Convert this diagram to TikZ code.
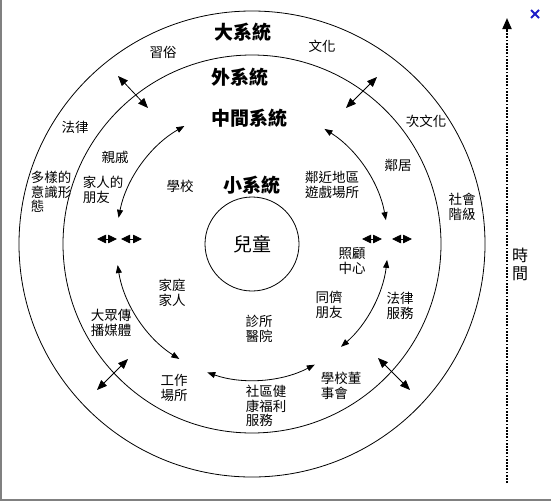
\documentclass[tikz,border=0pt]{standalone}
\usepackage{fontspec}
\newfontfamily\cjk{Noto Sans CJK TC}
\usetikzlibrary{arrows.meta}

\definecolor{closeblue}{RGB}{30,30,200}
\tikzset{
  ring/.style={shape=circle,draw=black,line width=0.8pt,inner sep=0pt},
  sysname/.style={font=\cjk\bfseries\fontsize{19}{20}\selectfont,inner sep=0pt},
  lbl/.style={font=\cjk\fontsize{13.5}{14.5}\selectfont,inner sep=0pt,align=center},
  lbll/.style={lbl,align=left},
  arcway/.style={{Triangle[length=8pt,width=6pt]}-{Triangle[length=8pt,width=6pt]},line width=0.8pt},
  crossway/.style={{Triangle[length=10pt,width=8pt]}-{Triangle[length=10pt,width=8pt]},line width=0.8pt},
  tinyway/.style={{Triangle[length=9pt,width=8.5pt]}-{Triangle[length=9pt,width=8.5pt]},line width=0.8pt},
  timeline/.style={-{Triangle[length=11pt,width=9pt]},line width=1.8pt,dash pattern=on 1.8pt off 1.4pt},
}

\begin{document}
\begin{tikzpicture}[x=1pt,y=1pt]
\useasboundingbox (0,0) rectangle (551,-501);
\draw[gray,line width=1.5pt] (1,0) -- (1,-500) -- (551,-500);

% rings
\coordinate (C) at (252,-244);
\node[ring,minimum size=466pt] (macro) at (C) {};
\node[ring,minimum size=378pt] (exo) at (C) {};
\node[ring,minimum size=94pt,font=\cjk\fontsize{19}{20}\selectfont] (child) at (C) {兒童};

% system names
\node[sysname] (macroname) at (243,-32) {大系統};
\node[sysname] (exoname) at (240,-77) {外系統};
\node[sysname] (mesoname) at (249,-118) {中間系統};
\node[sysname] (microname) at (252,-185) {小系統};

% labels
\node[lbl] (custom) at (163,-52) {習俗};
\node[lbl] (culture) at (322,-46) {文化};
\node[lbl] (law) at (75,-127) {法律};
\node[lbl] (subcult) at (426,-121) {次文化};
\node[lbl] (kin) at (115,-157) {親戚};
\node[lbl] (neigh) at (398,-165) {鄰居};
\node[lbll] (ideol) at (51,-192) {多樣的\\意識形\\態};
\node[lbll] (famfr) at (103,-190) {家人的\\朋友};
\node[lbl] (school) at (180,-186) {學校};
\node[lbl] (play) at (332,-185) {鄰近地區\\遊戲場所};
\node[lbl] (class) at (462,-207) {社會\\階級};
\node[lbl] (care) at (352,-261) {照顧\\中心};
\node[lbl] (peer) at (329,-305) {同儕\\朋友};
\node[lbl] (legal) at (400,-306) {法律\\服務};
\node[lbl] (family) at (172,-293) {家庭\\家人};
\node[lbl] (media) at (111,-323) {大眾傳\\播媒體};
\node[lbl] (clinic) at (259,-329) {診所\\醫院};
\node[lbl] (work) at (174,-388) {工作\\場所};
\node[lbll] (welfare) at (266,-406) {社區健\\康福利\\服務};
\node[lbll] (board) at (341,-386) {學校董\\事會};

% meso arcs
\coordinate (ul) at ([shift={(119.8:136)}]C);
\coordinate (ur) at ([shift={(57.8:136)}]C);
\coordinate (ll) at ([shift={(188.9:136)}]C);
\coordinate (bt) at ([shift={(250.8:136)}]C);
\coordinate (lr) at ([shift={(-6.7:136)}]C);
\draw[arcway] (ul) arc[start angle=119.8,end angle=168.9,radius=136];
\draw[arcway] (ur) arc[start angle=57.8,end angle=10.1,radius=136];
\draw[arcway] (ll) arc[start angle=188.9,end angle=237.7,radius=136];
\draw[arcway] (bt) arc[start angle=250.8,end angle=297.5,radius=136];
\draw[arcway] (lr) arc[start angle=-6.7,end angle=-49.1,radius=136];

% arrows across the exo ring
\coordinate (ulA) at (118,-76);
\coordinate (ulB) at (148,-108);
\coordinate (urA) at (377,-77);
\coordinate (urB) at (346,-108);
\coordinate (llA) at (97,-390);
\coordinate (llB) at (128,-359);
\coordinate (lrA) at (378,-358);
\coordinate (lrB) at (410,-390);
\path [crossway] (ulA) edge (ulB);
\path [crossway] (urA) edge (urB);
\path [crossway] (llA) edge (llB);
\path [crossway] (lrA) edge (lrB);

% small arrows on the horizontal
\coordinate (lt1) at (97,-239);
\coordinate (lt2) at (117,-239);
\coordinate (lt3) at (121,-239);
\coordinate (lt4) at (142,-239);
\coordinate (rt1) at (362,-239);
\coordinate (rt2) at (382,-239);
\coordinate (rt3) at (392,-239);
\coordinate (rt4) at (412,-239);
\path [tinyway] (lt1) edge (lt2);
\path [tinyway] (lt3) edge (lt4);
\path [tinyway] (rt1) edge (rt2);
\path [tinyway] (rt3) edge (rt4);

% time
\coordinate (tbot) at (507,-483);
\coordinate (ttop) at (507,-18);
\draw[timeline] (tbot) -- (ttop);
\node[lbl,font=\cjk\fontsize{16}{18}\selectfont] (time) at (520,-264) {時\\間};

\draw[closeblue,line width=2pt] (531,-10) -- (539,-18) (531,-18) -- (539,-10);
\end{tikzpicture}
\end{document}
